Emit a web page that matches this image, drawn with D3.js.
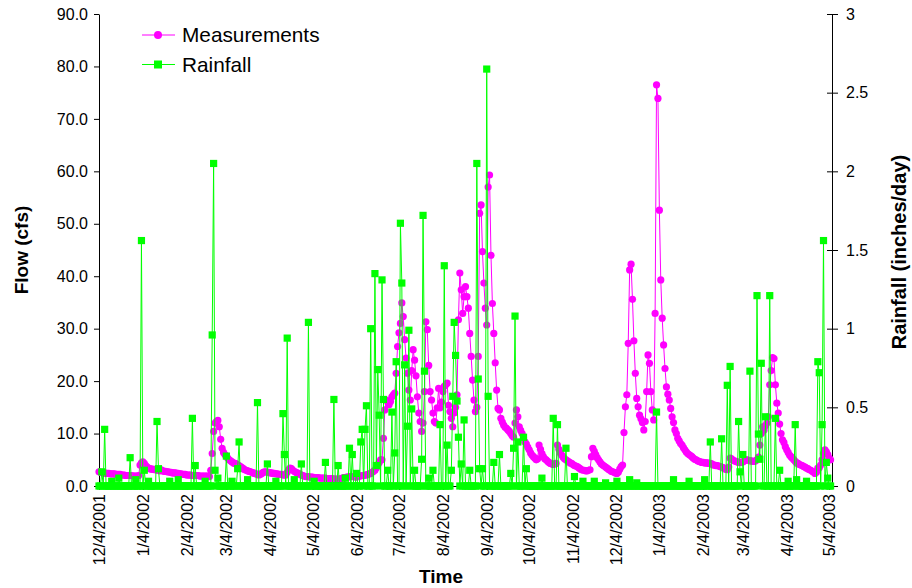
<!DOCTYPE html>
<html>
<head>
<meta charset="utf-8">
<script src="https://cdn.jsdelivr.net/npm/d3@7"></script>
<style>
  body { margin: 0; background: #fff; }
  svg { display: block; }
  text { font-family: "Liberation Sans", Arial, sans-serif; fill: #000; }
</style>
</head>
<body>
<svg width="912" height="588"></svg>
<script>
// first day of the daily record
const startDate = "12/4/2001";

// daily flow (cfs), one value per day from 12/4/2001
const flow = [
  2.7,2.6,2.6,2.5,2.5,2.4,2.4,2.4,2.3,2.3,2.3,2.3,2.2,2.2,2.2,2.2,2.1,2.1,2.1,2.0,2.0,2.0,2.0,2.0,1.9,1.9,1.9,1.9,
  2.0,4.0,4.4,4.6,4.3,3.9,3.6,3.4,3.3,3.2,3.2,3.1,3.1,3.0,3.0,2.9,3.1,2.9,2.8,2.8,2.7,2.7,2.6,2.6,2.5,2.5,2.5,2.4,2.4,2.3,2.3,
  2.2,2.2,2.2,2.1,2.1,2.1,2.1,2.0,2.0,2.0,2.0,2.0,1.9,1.9,1.9,1.9,1.9,1.9,1.9,1.8,3.0,6.2,10.4,12.0,12.3,12.5,11.3,8.9,
  7.2,6.4,6.0,5.7,5.3,5.0,4.8,4.6,4.4,4.3,4.2,4.0,3.9,3.7,3.5,3.3,3.1,3.0,2.9,2.8,2.7,2.6,2.5,2.4,2.3,2.2,2.1,2.2,2.4,2.6,2.7,
  2.7,2.6,2.6,2.5,2.5,2.4,2.4,2.3,2.3,2.2,2.2,2.2,2.1,2.1,2.1,2.6,3.1,3.4,3.3,3.0,2.8,2.6,2.5,2.4,2.2,2.1,2.0,1.9,1.8,1.8,
  1.8,1.7,1.7,1.7,1.6,1.6,1.6,1.6,1.5,1.5,1.5,1.5,1.5,1.4,1.4,1.4,1.4,1.4,1.3,1.3,1.3,1.3,1.3,1.4,1.5,1.6,1.6,1.7,1.7,1.8,1.8,
  1.8,1.8,1.7,1.7,1.8,1.9,1.9,2.0,2.0,2.1,2.1,2.2,2.3,2.4,2.6,2.8,3.0,3.5,4.0,4.5,5.0,5.0,9.1,14.5,16.4,16.0,15.5,16.1,17.0,17.4,
  17.7,21.5,26.6,29.2,31.0,34.9,32.3,27.9,24.4,21.5,18.3,16.4,22.0,26.0,24.0,21.0,17.0,13.9,12.3,10.4,12.0,18.0,31.3,29.8,23.0,18.0,16.4,13.9,12.3,12.0,14.9,
  18.6,14.9,16.0,18.0,19.0,19.3,19.6,15.4,14.2,12.9,11.3,13.9,15.0,17.4,31.7,40.6,37.4,32.9,36.1,38.0,36.1,33.9,29.1,24.7,20.2,16.4,14.2,15.0,24.7,52.0,53.6,
  44.7,38.7,33.9,30.7,57.0,59.3,44.0,34.8,29.1,23.5,18.3,14.8,14.5,12.9,12.2,11.6,11.2,11.0,10.7,10.4,10.0,9.6,9.3,12.0,14.5,13.2,11.3,10.6,10.0,9.2,
  8.4,8.0,7.4,6.9,6.3,5.9,5.6,5.3,5.0,5.2,7.8,7.0,6.2,5.6,5.2,5.0,4.7,4.5,4.3,4.2,4.1,4.2,4.3,7.8,7.0,6.3,5.9,5.5,5.2,5.0,4.8,
  4.6,4.4,4.3,4.1,3.9,3.8,3.7,3.5,3.3,3.1,3.0,3.0,2.9,2.9,3.0,3.1,5.6,7.2,6.6,6.0,5.4,5.0,4.6,4.2,4.0,3.8,3.6,3.4,3.2,3.0,
  2.8,2.7,2.6,2.5,2.4,2.6,3.2,3.7,4.0,10.2,15.1,17.4,27.2,41.2,42.3,35.6,27.7,21.5,16.7,15.1,13.5,12.8,12.1,10.7,12.3,18.0,25.0,23.4,18.0,14.5,12.6,
  32.9,76.5,73.9,52.6,39.3,32.0,26.9,22.4,18.9,17.5,16.4,14.8,13.2,12.1,10.7,10.0,9.1,8.6,8.1,7.8,7.3,6.9,6.5,6.2,6.0,5.8,5.6,5.3,5.1,5.0,4.8,
  4.7,4.6,4.5,4.5,4.4,4.4,4.4,4.3,4.3,4.2,4.0,4.0,3.9,3.9,3.8,3.7,3.6,3.5,3.3,3.2,3.1,3.6,5.3,5.2,4.9,4.8,4.7,4.6,
  4.5,4.5,4.5,4.6,4.8,5.0,5.0,4.9,4.8,4.8,4.7,4.7,4.8,5.0,5.5,7.8,10.0,11.3,10.7,11.5,12.0,13.2,19.3,22.0,24.5,24.3,19.3,15.8,13.9,11.8,10.0,
  8.8,8.3,7.5,6.9,6.4,5.9,5.6,5.3,5.0,4.7,4.4,4.3,4.1,4.0,3.9,3.7,3.6,3.4,3.3,3.1,3.0,2.8,2.6,2.4,2.6,3.4,3.5,4.0,5.0,6.2,
  6.9,6.5,6.0,5.3,5.0
];

// daily rainfall (inches/day), same days
const rain = [
  0,0,.09,0,.36,0,0,0,0,.03,0,0,0,0,.05,0,0,0,0,0,0,0,.18,0,0,0,.04,0,
  0,0,1.56,0,.10,0,0,.03,0,0,0,0,0,.41,.11,0,0,0,0,0,0,0,.03,0,0,0,0,0,.04,0,0,
  0,0,0,0,0,0,0,.43,0,.13,0,0,0,0,0,0,.03,0,0,0,0,.96,2.05,.10,0,.05,0,0,
  0,0,0,.19,0,0,0,.03,0,0,0,.11,.28,0,0,0,0,0,.04,0,0,0,0,0,0,.53,0,0,0,0,0,
  0,.14,0,0,0,0,0,.03,0,0,0,0,.46,.20,0,.94,0,0,0,0,.04,0,0,0,0,.14,0,0,0,0,
  1.04,0,0,0,.03,0,0,0,0,0,0,0,.15,0,0,0,0,0,.55,0,0,.13,0,0,0,0,.05,0,0,.24,0,
  .20,0,0,.08,0,0,.28,.36,0,.36,.51,0,0,1.00,0,0,1.35,.13,.74,.45,0,1.31,.55,0,0,.10,0,0,.47,0,
  .21,.79,0,0,1.67,1.29,0,.77,0,.38,.99,0,.49,0,.10,0,0,0,0,.17,1.72,.73,0,0,.05,0,0,.10,0,0,0,
  0,.39,0,0,1.40,0,.26,0,0,.10,.57,1.04,.83,.54,.31,0,.14,0,.42,0,0,0,.10,0,0,0,0,2.05,.68,.11,0,
  .11,0,0,2.65,.57,0,0,0,.15,0,0,0,.20,0,0,0,0,0,0,0,.08,0,.24,1.08,0,.28,0,0,0,.31,
  0,.11,0,0,0,0,0,0,0,0,0,0,.05,0,0,0,0,0,0,0,.43,0,0,.39,0,0,0,0,0,.24,0,
  0,0,0,0,.06,0,0,0,0,0,.03,0,0,0,0,0,0,0,.03,0,0,0,0,0,0,0,.02,0,0,0,
  0,0,0,0,.03,0,0,0,0,0,0,0,0,.04,0,0,0,0,.02,0,0,0,0,0,0,0,0,0,0,0,0,
  0,.47,0,0,0,0,0,0,0,0,0,0,0,.04,0,0,0,0,0,0,0,0,0,0,.03,0,0,0,0,0,0,
  0,0,0,0,.04,0,0,0,.28,0,0,0,0,0,0,0,.30,0,0,0,.64,0,.76,0,0,0,0,0,
  .41,.09,0,.20,0,0,0,0,.73,0,0,0,0,1.21,.33,.17,.78,0,0,.44,0,0,1.21,0,0,0,.43,0,0,.10,0,
  0,0,0,0,.03,0,0,0,0,.39,.04,0,0,0,0,0,0,.03,0,0,0,0,0,0,0,.79,.72,0,.39,1.56,
  0,.15,.05,0,0
];

const xTickLabels = ["12/4/2001","1/4/2002","2/4/2002","3/4/2002","4/4/2002","5/4/2002","6/4/2002",
  "7/4/2002","8/4/2002","9/4/2002","10/4/2002","11/4/2002","12/4/2002","1/4/2003","2/4/2003",
  "3/4/2003","4/4/2003","5/4/2003"];
const flowTicks = [0,10,20,30,40,50,60,70,80,90];
const rainTicks = [0,0.5,1,1.5,2,2.5,3];
const seriesNames = ["Measurements","Rainfall"];

const parseDate = d3.timeParse("%m/%d/%Y");
const t0 = parseDate(startDate);
const days = flow.map((v, i) => d3.timeDay.offset(t0, i));

const plotLeft = 99, plotRight = 832, plotTop = 14, plotBottom = 486;

const x = d3.scaleTime()
    .domain([t0, d3.timeDay.offset(t0, 518)])
    .range([plotLeft, plotRight]);
const y = d3.scaleLinear().domain([0, 90]).range([plotBottom, plotTop]);
const y2 = d3.scaleLinear().domain([0, 3]).range([plotBottom, plotTop]);

const svg = d3.select("svg");

// axes
const xAxis = svg.append("g")
    .attr("transform", `translate(0,${plotBottom})`)
    .call(d3.axisBottom(x)
        .tickValues(xTickLabels.map(parseDate))
        .tickFormat(d3.timeFormat("%-m/%-d/%Y"))
        .tickSize(4).tickSizeOuter(0));
xAxis.selectAll("text")
    .attr("transform", "rotate(-90)")
    .attr("x", -8).attr("y", 0).attr("dy", "0.35em")
    .style("text-anchor", "end")
    .style("font-size", "16px");

const yAxis = svg.append("g")
    .attr("transform", `translate(${plotLeft},0)`)
    .call(d3.axisLeft(y).tickValues(flowTicks).tickFormat(d3.format(".1f"))
        .tickSize(5).tickSizeOuter(0).tickPadding(6));
yAxis.selectAll("text").style("font-size", "16px");

const y2Axis = svg.append("g")
    .attr("transform", `translate(${plotRight},0)`)
    .call(d3.axisRight(y2).tickValues(rainTicks).tickFormat(d => String(d))
        .tickSize(6).tickSizeOuter(0).tickPadding(8));
y2Axis.selectAll(".tick line").attr("x1", -5);
y2Axis.selectAll("text").style("font-size", "16px");

svg.selectAll(".domain, .tick line").attr("stroke", "#000");
svg.selectAll(".tick text").attr("fill", "#000");

// measurements
const flowLine = d3.line().x((d, i) => x(days[i])).y(d => y(d));
svg.append("path")
    .datum(flow)
    .attr("fill", "none")
    .attr("stroke", "#ff00ff")
    .attr("stroke-width", 1)
    .attr("d", flowLine);
svg.append("g")
    .selectAll("circle")
    .data(flow)
    .join("circle")
    .attr("cx", (d, i) => x(days[i]))
    .attr("cy", d => y(d))
    .attr("r", 3.6)
    .attr("fill", "#ff00ff");

// rainfall
const rainLine = d3.line().x((d, i) => x(days[i])).y(d => y2(d));
svg.append("path")
    .datum(rain)
    .attr("fill", "none")
    .attr("stroke", "#00ff00")
    .attr("stroke-width", 1)
    .attr("d", rainLine);
svg.append("g")
    .selectAll("rect")
    .data(rain)
    .join("rect")
    .attr("x", (d, i) => x(days[i]) - 3.6)
    .attr("y", d => y2(d) - 3.6)
    .attr("width", 7.2)
    .attr("height", 7.2)
    .attr("fill", "#00ff00");

// legend
const legend = svg.append("g").attr("transform", "translate(142,35)");
seriesNames.forEach((name, i) => {
    const g = legend.append("g").attr("transform", `translate(0,${i * 29.5})`);
    const col = i === 0 ? "#ff00ff" : "#00ff00";
    g.append("line").attr("x1", 0).attr("x2", 33).attr("stroke", col).attr("stroke-width", 1.2);
    if (i === 0) {
        g.append("circle").attr("cx", 16).attr("r", 4).attr("fill", col);
    } else {
        g.append("rect").attr("x", 12).attr("y", -4).attr("width", 8).attr("height", 8).attr("fill", col);
    }
    g.append("text").attr("x", 40).attr("dy", "0.35em")
        .style("font-size", "20.8px").text(name);
});

// axis titles
svg.append("text")
    .attr("transform", `translate(21,${(plotTop + plotBottom) / 2}) rotate(-90)`)
    .attr("dy", "0.35em")
    .style("text-anchor", "middle")
    .style("font-size", "19px").style("font-weight", "bold")
    .text("Flow (cfs)");

svg.append("text")
    .attr("x", 441).attr("y", 583)
    .style("text-anchor", "middle")
    .style("font-size", "19px").style("font-weight", "bold")
    .text("Time");

svg.append("text")
    .attr("transform", `translate(899,${(plotTop + plotBottom) / 2 + 2}) rotate(-90)`)
    .attr("dy", "0.35em")
    .style("text-anchor", "middle")
    .style("font-size", "20px").style("font-weight", "bold")
    .text("Rainfall (inches/day)");
</script>
</body>
</html>
